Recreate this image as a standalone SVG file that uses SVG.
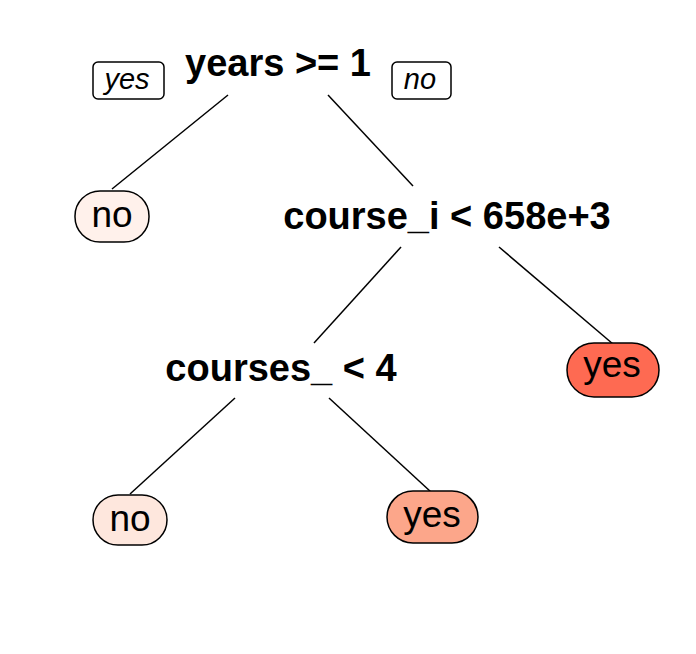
<svg xmlns="http://www.w3.org/2000/svg" width="696" height="654" viewBox="0 0 696 654">
<style>
.split{font-family:"Liberation Sans",Arial,sans-serif;font-weight:bold;font-size:38px;fill:#000;text-anchor:middle}
.leaf{font-family:"Liberation Sans",Arial,sans-serif;font-size:37px;fill:#000;text-anchor:middle}
.lab{font-family:"Liberation Sans",Arial,sans-serif;font-style:italic;font-size:29px;fill:#000;text-anchor:middle}
.box{stroke:#000;stroke-width:1.5}
.edge{stroke:#000;stroke-width:1.5;fill:none}
</style>
<rect width="696" height="654" fill="#fff"/>
<g id="connectors">
<line class="edge" x1="228" y1="95" x2="112" y2="189"/>
<line class="edge" x1="328" y1="95" x2="413" y2="186"/>
<line class="edge" x1="401" y1="247" x2="314" y2="343"/>
<line class="edge" x1="499" y1="247" x2="613" y2="344"/>
<line class="edge" x1="235" y1="398" x2="130" y2="494"/>
<line class="edge" x1="329" y1="398" x2="431" y2="492"/>
</g>
<g id="label-yes">
<rect class="box" x="93" y="62" width="71" height="37" rx="5" fill="#fff"/>
<text class="lab" x="127" y="89">yes</text>
</g>
<g id="label-no">
<rect class="box" x="392" y="62" width="59" height="37" rx="5" fill="#fff"/>
<text class="lab" x="420" y="89">no</text>
</g>
<g id="n1">
<text class="split" x="278" y="76">years &gt;= 1</text>
</g>
<g id="n2">
<rect class="box" x="75" y="191" width="74" height="51" rx="25" fill="#fff1eb"/>
<text class="leaf" x="112" y="227">no</text>
</g>
<g id="n3">
<text class="split" x="447" y="229">course_i &lt; 658e+3</text>
</g>
<g id="n4">
<text class="split" x="281" y="381">courses_ &lt; 4</text>
</g>
<g id="n5">
<rect class="box" x="567" y="343" width="92" height="54" rx="27" fill="#fe6a52"/>
<text class="leaf" x="612" y="377">yes</text>
</g>
<g id="n6">
<rect class="box" x="93" y="495" width="74" height="50" rx="25" fill="#fee7dd"/>
<text class="leaf" x="130" y="531">no</text>
</g>
<g id="n7">
<rect class="box" x="387" y="491" width="91" height="52" rx="26" fill="#fca68a"/>
<text class="leaf" x="432" y="527">yes</text>
</g>
</svg>
